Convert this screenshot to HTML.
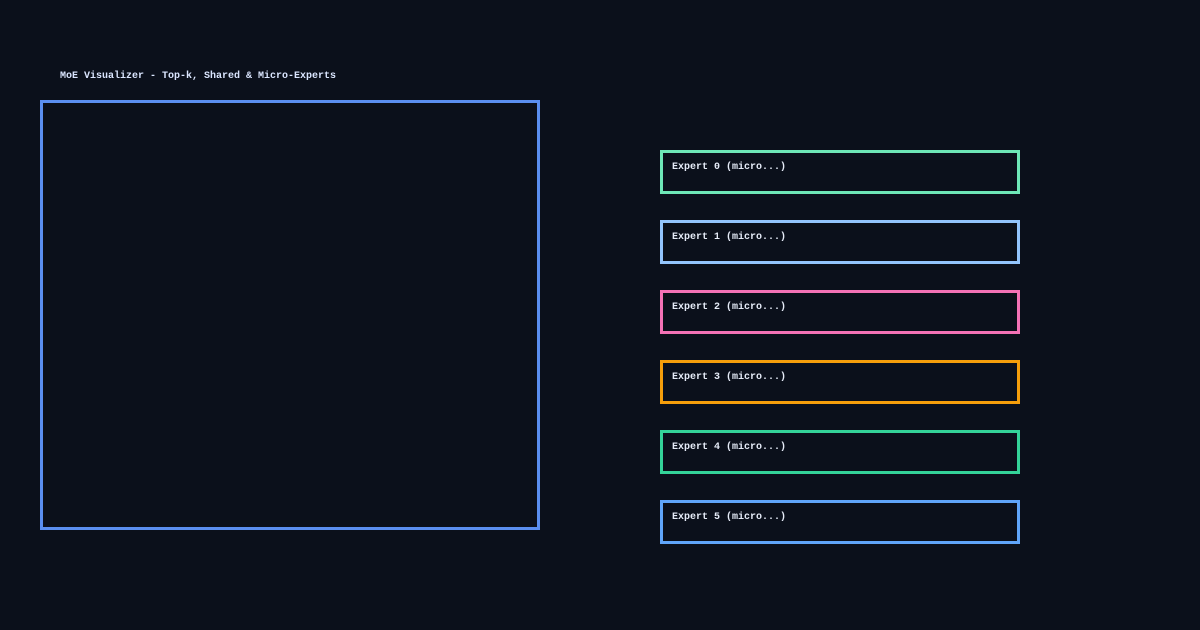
<!DOCTYPE html>
<html><head><style>
html,body{margin:0;padding:0;}
body{width:1200px;height:630px;background:#0b101b;position:relative;overflow:hidden;font-family:"Liberation Mono",monospace;font-weight:bold;}
.t{position:absolute;left:60px;top:71px;font-size:10px;color:#dbe6ff;white-space:pre;}
.main{position:absolute;left:40px;top:100px;width:494px;height:424px;border:3px solid #5b8ff0;}
.e{position:absolute;left:660px;width:354px;height:38px;border:3px solid;}
.e span{position:absolute;left:9px;top:9px;font-size:10px;color:#e6ecf8;white-space:pre;}
</style></head><body>
<div class="t">MoE Visualizer - Top-k, Shared &amp; Micro-Experts</div>
<div class="main"></div>
<div class="e" style="top:150px;border-color:#6ee7b7"><span>Expert 0 (micro...)</span></div>
<div class="e" style="top:220px;border-color:#93c5fd"><span>Expert 1 (micro...)</span></div>
<div class="e" style="top:290px;border-color:#f472b6"><span>Expert 2 (micro...)</span></div>
<div class="e" style="top:360px;border-color:#f59e0b"><span>Expert 3 (micro...)</span></div>
<div class="e" style="top:430px;border-color:#34d399"><span>Expert 4 (micro...)</span></div>
<div class="e" style="top:500px;border-color:#60a5fa"><span>Expert 5 (micro...)</span></div>
</body></html>
